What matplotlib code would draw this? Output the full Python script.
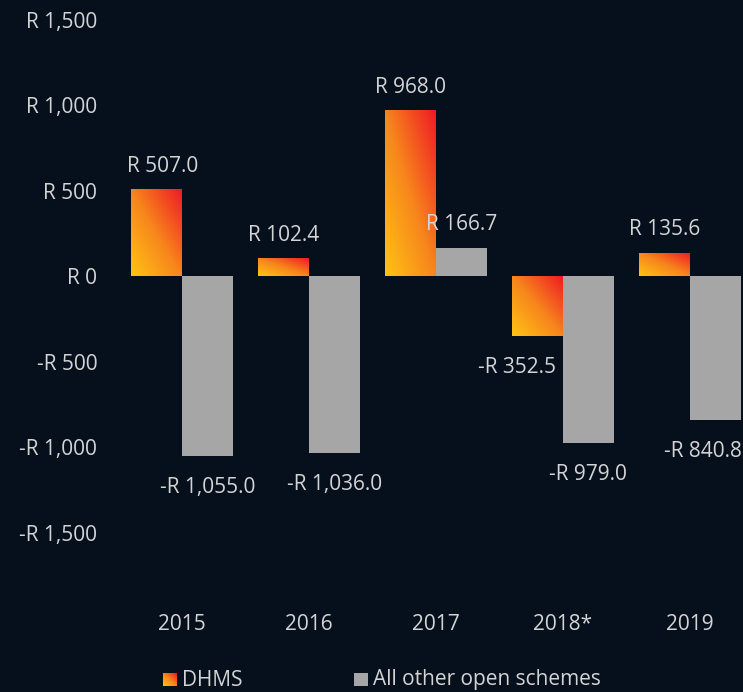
import matplotlib.pyplot as plt
import numpy as np
from matplotlib.colors import LinearSegmentedColormap

plt.rcParams["font.family"] = ["Open Sans", "DejaVu Sans"]

anios = ["2015", "2016", "2017", "2018*", "2019"]
dhms = [507.0, 102.4, 968.0, -352.5, 135.6]
otros = [-1055.0, -1036.0, 166.7, -979.0, -840.8]
ticks_y = [-1500, -1000, -500, 0, 500, 1000, 1500]

fondo = "#06101d"
texto = "#d4d4d4"
gris = "#a6a6a6"
degradado = LinearSegmentedColormap.from_list("dhms", ["#ffc315", "#f7851c", "#ef1b25"])
tam = 15


def formato_rand(valor, decimales=0):
    signo = "-" if valor < 0 else ""
    return f"{signo}R {abs(valor):,.{decimales}f}"


def barra_degradado(ax, barra):
    x, y = barra.get_x(), barra.get_y()
    w, h = barra.get_width(), barra.get_height()
    u, v = np.meshgrid(np.linspace(0, 1, 64), np.linspace(0, 1, 64))
    img = ax.imshow((u + v) / 2, cmap=degradado, origin="lower", aspect="auto",
                    extent=[x, x + w, min(y, y + h), max(y, y + h)], zorder=2,
                    interpolation="bilinear")
    img.set_clip_path(barra)
    barra.set_facecolor("none")


def etiquetar(ax, barras, valores, desplaza):
    for i, (b, v) in enumerate(zip(barras, valores)):
        dy = 9 if v > 0 else -15
        ax.annotate(formato_rand(v, 1), (b.get_x() + b.get_width() / 2, v),
                    xytext=(desplaza.get(i, 0), dy), textcoords="offset points",
                    ha="center", va="bottom" if v > 0 else "top",
                    color=texto, fontsize=tam)


fig = plt.figure(figsize=(7.43, 6.92), dpi=100, facecolor=fondo)
ax = fig.add_axes([118 / 743, 92 / 692, 625 / 743, 590 / 692])
ax.set_facecolor(fondo)

x = np.arange(len(anios))
ancho = 0.4
barras_dhms = ax.bar(x - ancho / 2, dhms, ancho, linewidth=0, zorder=2)
barras_otros = ax.bar(x + ancho / 2, otros, ancho, color=gris, linewidth=0, zorder=2)
for barra in barras_dhms:
    barra_degradado(ax, barra)

etiquetar(ax, barras_dhms, dhms, {0: 4, 3: -15})
etiquetar(ax, barras_otros, otros, {4: -9})

ax.set_xlim(-0.504, 4.417)
ax.set_ylim(-1894.7, 1555.6)
ax.set_xticks(x)
ax.set_xticklabels(anios)
ax.set_yticks(ticks_y)
ax.set_yticklabels([formato_rand(t) for t in ticks_y])
ax.tick_params(colors=texto, labelsize=tam, length=0)
ax.tick_params(axis="y", pad=15)
ax.tick_params(axis="x", pad=10)
for lado in ax.spines.values():
    lado.set_visible(False)

# leyenda manual
cuadro = fig.add_axes([163 / 743, 1 - 686 / 692, 14 / 743, 13 / 692])
u, v = np.meshgrid(np.linspace(0, 1, 16), np.linspace(0, 1, 16))
cuadro.imshow((u + v) / 2, cmap=degradado, origin="lower", aspect="auto")
cuadro.axis("off")
fig.patches.append(plt.Rectangle((354 / 743, 1 - 686 / 692), 14 / 743, 13 / 692,
                                 transform=fig.transFigure, facecolor=gris, linewidth=0))
fig.text(182 / 743, 1 - 680 / 692, "DHMS", color=texto, fontsize=tam, va="center")
fig.text(373 / 743, 1 - 680 / 692, "All other open schemes", color=texto, fontsize=tam, va="center")

fig.savefig("out.png", dpi=100, facecolor=fondo)
